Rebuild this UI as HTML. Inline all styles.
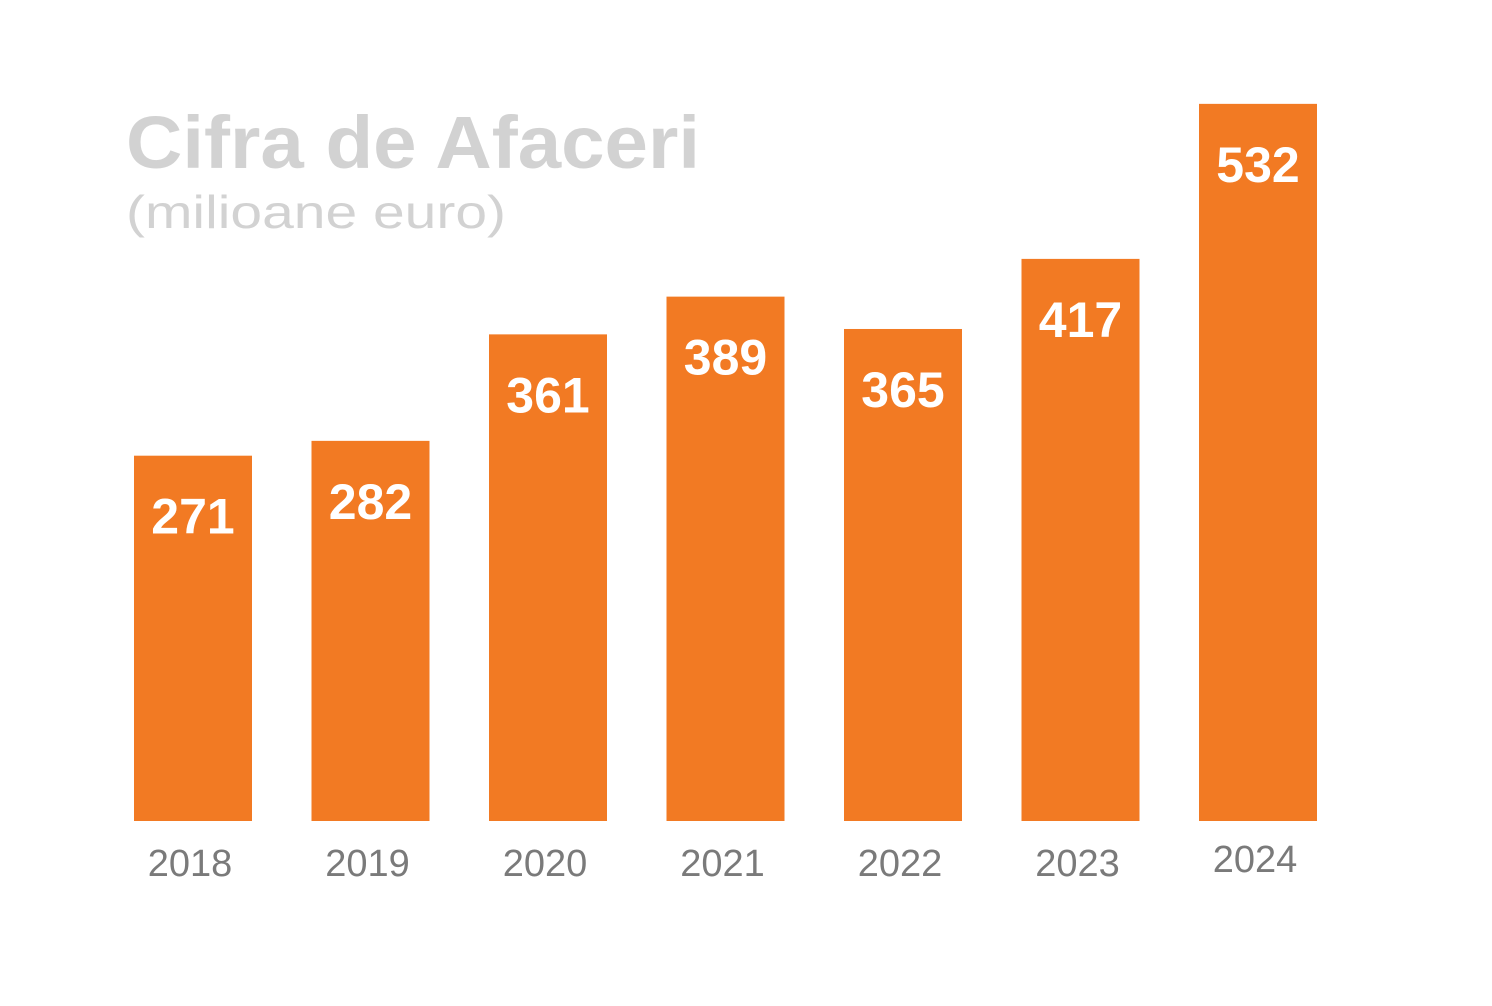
<!DOCTYPE html>
<html><head><meta charset="utf-8"><style>
html,body{margin:0;padding:0;background:#fff;}
svg{display:block;font-family:"Liberation Sans",sans-serif;}
</style></head><body>
<svg width="1492" height="1006" viewBox="0 0 1492 1006">
<text x="126" y="168" font-size="74" font-weight="bold" fill="#d2d2d2" textLength="574" lengthAdjust="spacingAndGlyphs">Cifra de Afaceri</text>
<text x="126" y="228" font-size="46" fill="#d2d2d2" textLength="380" lengthAdjust="spacingAndGlyphs">(milioane euro)</text>
<g id="bars"></g>
</svg>
<script>
const categories=["2018","2019","2020","2021","2022","2023","2024"];
const values=[271,282,361,389,365,417,532];
const valueLabels=["271","282","361","389","365","417","532"];
const ns="http://www.w3.org/2000/svg";
const baseY=821, scale=1.348, x0=193, step=177.5, bw=118;
const yPos=v=>baseY-v*scale;
const xPos=i=>x0+i*step;
const g=document.getElementById("bars");
values.forEach((v,i)=>{
  const cx=xPos(i), top=yPos(v);
  const r=document.createElementNS(ns,"rect");
  r.setAttribute("x",cx-bw/2);r.setAttribute("y",top);
  r.setAttribute("width",bw);r.setAttribute("height",baseY-top);
  r.setAttribute("fill","#f27a23");
  
  
  g.appendChild(r);
  const t=document.createElementNS(ns,"text");
  t.setAttribute("x",cx);t.setAttribute("y",top+78);
  t.setAttribute("text-anchor","middle");t.setAttribute("font-size","50");
  t.setAttribute("font-weight","bold");t.setAttribute("fill","#fff");
  t.textContent=valueLabels[i];
  
  
  g.appendChild(t);
  const y=document.createElementNS(ns,"text");
  y.setAttribute("x",cx-3);y.setAttribute("y",i==6?872:876);
  y.setAttribute("text-anchor","middle");y.setAttribute("font-size","38");
  y.setAttribute("fill","#7a7a7a");
  y.textContent=categories[i];
  
  
  g.appendChild(y);
});
</script>
</body></html>
